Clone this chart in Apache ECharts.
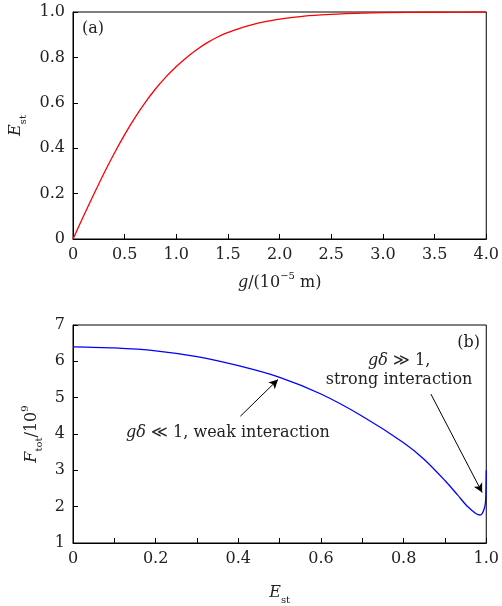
<!DOCTYPE html>
<html lang="en">
<head>
	<meta charset="UTF-8">
	<title>E_st and F_tot</title>
	<script src="https://cdn.jsdelivr.net/npm/echarts@6/dist/echarts.min.js"></script>
</head>
<body style="margin:0">
	<div id="main" style="width:502px;height:606px;"></div>
	<script type="text/javascript">
        // (a) E_st against g (10^-5 m)
        var gVals = [0, 0.1, 0.2, 0.3, 0.4, 0.5, 0.6, 0.7, 0.8, 0.9, 1.0, 1.1, 1.2, 1.3, 1.4, 1.5,
            1.6, 1.7, 1.8, 1.9, 2.0, 2.2, 2.4, 2.6, 2.8, 3.0, 3.5, 4.0];
        var eVals = [0, 0.099, 0.196, 0.290, 0.378, 0.460, 0.535, 0.602, 0.662, 0.714, 0.760, 0.800, 0.835,
            0.865, 0.890, 0.910, 0.926, 0.940, 0.952, 0.961, 0.969, 0.980, 0.987, 0.992, 0.995, 0.997, 0.999, 1.0];

        // (b) F_tot/10^9 against E_st
        var estVals = [0, 0.1, 0.2, 0.3, 0.4, 0.5, 0.6, 0.7, 0.8, 0.85, 0.9, 0.93, 0.95, 0.96, 0.97,
            0.975, 0.98, 0.985, 0.99, 0.993, 0.996, 0.998, 0.999, 1.0];
        var fVals = [6.40, 6.37, 6.29, 6.13, 5.88, 5.56, 5.10, 4.49, 3.76, 3.30, 2.72, 2.33, 2.06, 1.95,
            1.85, 1.81, 1.78, 1.77, 1.81, 1.88, 1.98, 2.11, 2.35, 3.0];

        var serif = "'DejaVu Serif', 'Liberation Serif', serif";
        var ink = '#222';

        function pairs(xs, ys) {
            return xs.map(function (x, i) { return [x, ys[i]]; });
        }
        function oneDec(v) {
            return v === 0 ? '0' : v.toFixed(1);
        }

        var nameRich = {
            i: { fontStyle: 'italic', fontSize: 16, lineHeight: 24, fontFamily: serif, color: ink },
            n: { fontSize: 16, lineHeight: 24, fontFamily: serif, color: ink },
            s: { fontSize: 10, lineHeight: 13, verticalAlign: 'bottom', fontFamily: serif, color: ink },
            p: { fontSize: 10, lineHeight: 13, verticalAlign: 'top', fontFamily: serif, color: ink }
        };

        function axisBase() {
            return {
                type: 'value',
                nameLocation: 'middle',
                nameTextStyle: { rich: nameRich },
                axisLine: { show: true, lineStyle: { color: '#000', width: 1 } },
                axisTick: { show: true, inside: true, length: 5, lineStyle: { color: '#000' } },
                axisLabel: { fontFamily: serif, fontSize: 16, color: ink, margin: 8 },
                splitLine: { show: false }
            };
        }

        var xTop = axisBase();
        xTop.gridIndex = 0; xTop.min = 0; xTop.max = 4; xTop.interval = 0.5;
        xTop.name = '{i|g}{n|/(10}{p|\u22125}{n| m)}'; xTop.nameGap = 32;
        xTop.axisLabel.formatter = oneDec;

        var yTop = axisBase();
        yTop.gridIndex = 0; yTop.min = 0; yTop.max = 1; yTop.interval = 0.2;
        yTop.name = '{i|E}{s|st}'; yTop.nameGap = 45; yTop.nameRotate = 90;
        yTop.axisLabel.formatter = oneDec;

        var xBot = axisBase();
        xBot.gridIndex = 1; xBot.min = 0; xBot.max = 1; xBot.interval = 0.1;
        xBot.name = '{i|E}{s|st}'; xBot.nameGap = 38;
        xBot.axisLabel.formatter = function (v) {
            return Math.round(v * 10) % 2 ? '' : oneDec(v);
        };

        var yBot = axisBase();
        yBot.gridIndex = 1; yBot.min = 1; yBot.max = 7; yBot.interval = 1;
        yBot.name = '{i|F}{s|tot}{n|/10}{p|9}'; yBot.nameGap = 25; yBot.nameRotate = 90;

        var annRich = {
            i: { fontStyle: 'italic', fontSize: 16, fontFamily: serif, color: ink, lineHeight: 19 },
            n: { fontSize: 16, fontFamily: serif, color: ink, lineHeight: 19 }
        };

        var myChart = echarts.init(document.getElementById('main'));
        myChart.setOption({
            animation: false,
            backgroundColor: '#fff',
            grid: [
                { left: 73, right: 13, top: 12, height: 227, show: true, borderColor: '#000', borderWidth: 1 },
                { left: 73, right: 13, top: 325, height: 227, show: true, borderColor: '#000', borderWidth: 1 }
            ],
            xAxis: [xTop, xBot],
            yAxis: [yTop, yBot],
            graphic: [
                { type: 'text', left: 82, top: 21, style: { text: '(a)', font: '16px ' + serif, fill: ink } },
                { type: 'text', right: 22, top: 335, style: { text: '(b)', font: '16px ' + serif, fill: ink } }
            ],
            series: [
                {
                    type: 'line', xAxisIndex: 0, yAxisIndex: 0,
                    data: pairs(gVals, eVals),
                    showSymbol: false, smooth: 0.3,
                    lineStyle: { color: '#ff0000', width: 1.3 }
                },
                {
                    type: 'line', xAxisIndex: 1, yAxisIndex: 1,
                    data: pairs(estVals, fVals),
                    showSymbol: false, smooth: 0.3,
                    lineStyle: { color: '#0000ff', width: 1.3 },
                    markLine: {
                        silent: true,
                        symbol: ['none', 'arrow'],
                        symbolSize: [7, 9],
                        lineStyle: { color: '#000', width: 1, type: 'solid' },
                        label: { show: false },
                        data: [
                            [{ coord: [0.405, 4.49] }, { coord: [0.496, 5.50] }],
                            [{ coord: [0.866, 5.10] }, { coord: [0.990, 2.39] }]
                        ]
                    },
                    markPoint: {
                        silent: true,
                        symbolSize: 0,
                        label: { show: true, position: 'inside', align: 'center', rich: annRich },
                        data: [
                            { coord: [0.375, 4.04], label: { formatter: '{i|g\u03b4}{n| \u226a 1, weak interaction}' } },
                            { coord: [0.789, 5.74], label: { formatter: '{i|g\u03b4}{n| \u226b 1,}\n{n|strong interaction}' } }
                        ]
                    }
                }
            ]
        });
    </script>
</body>
</html>
